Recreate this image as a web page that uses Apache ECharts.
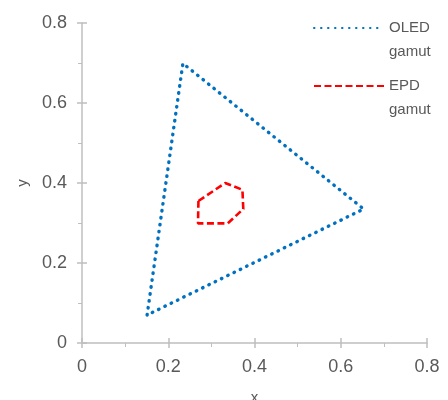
<!DOCTYPE html>
<html>
<head>
<meta charset="utf-8">
<title>Gamut chart</title>
<script src="https://cdn.jsdelivr.net/npm/echarts@6/dist/echarts.min.js"></script>
<style>
  html, body { margin: 0; padding: 0; background: #fff; }
  #chart { width: 448px; height: 400px; }
</style>
</head>
<body>
<div id="chart"></div>
<script>
//--------------------- Data ---------------------------//
// OLED triangle (x, y)
const oledX = [0.151, 0.234, 0.653, 0.151];
const oledY = [0.070, 0.699, 0.335, 0.070];

// EPD polygon (x, y)
const epdX = [0.270, 0.332, 0.372, 0.374, 0.338, 0.269, 0.270];
const epdY = [0.355, 0.400, 0.383, 0.335, 0.299, 0.299, 0.355];

const axisTicks = [0, 0.2, 0.4, 0.6, 0.8];

//--------------------- Helpers ---------------------------//
const grey = '#595959';
const axisGrey = '#bfbfbf';
const font = 'Liberation Sans, Arial, sans-serif';

function toPairs(xs, ys) {
  return xs.map((x, i) => [x, ys[i]]);
}

// main axis: line, labels, outside ticks and minor ticks
function makeAxis(name, extra) {
  return Object.assign({
    type: 'value',
    name: name,
    nameLocation: 'middle',
    nameTextStyle: { color: grey, fontSize: 15, fontFamily: font },
    min: axisTicks[0],
    max: axisTicks[axisTicks.length - 1],
    interval: axisTicks[1] - axisTicks[0],
    axisLine: { show: true, lineStyle: { color: axisGrey, width: 1.5 } },
    axisTick: { show: true, length: 5, lineStyle: { color: axisGrey, width: 1.5 } },
    minorTick: { show: true, splitNumber: 2, length: 4, lineStyle: { color: axisGrey, width: 1 } },
    splitLine: { show: false },
    axisLabel: { color: grey, fontSize: 18, fontFamily: font, margin: 15 }
  }, extra);
}

// twin axis that only draws the inner half of the major ticks
function makeInnerTicks(extra) {
  return Object.assign({
    type: 'value',
    min: axisTicks[0],
    max: axisTicks[axisTicks.length - 1],
    interval: axisTicks[1] - axisTicks[0],
    axisLine: { show: false },
    axisTick: { show: true, inside: true, length: 5, lineStyle: { color: axisGrey, width: 1.5 } },
    axisLabel: { show: false },
    splitLine: { show: false }
  }, extra);
}

//--------------------- Main ---------------------------//
var chartDom = document.getElementById('chart');
var myChart = echarts.init(chartDom);
var option;

option = {
  animation: false,
  grid: { left: 82, right: 21, top: 23, bottom: 57, containLabel: false, outerBoundsMode: 'none' },
  xAxis: [
    makeAxis('x', { nameGap: 47 }),
    makeInnerTicks({ position: 'bottom' })
  ],
  yAxis: [
    makeAxis('y', { nameGap: 52 }),
    makeInnerTicks({ position: 'left' })
  ],
  legend: {
    orient: 'vertical',
    left: 313,
    top: -8,
    padding: 0,
    itemWidth: 70,
    itemHeight: 10,
    itemGap: -14,
    selectedMode: false,
    itemStyle: { opacity: 0 },
    formatter: (name) => '\n' + name,
    textStyle: {
      color: grey,
      fontSize: 15,
      fontFamily: font,
      lineHeight: 24
    },
    data: ['OLED\ngamut', 'EPD\ngamut']
  },
  series: [
    {
      name: 'OLED\ngamut',
      type: 'line',
      symbol: 'none',
      data: toPairs(oledX, oledY),
      lineStyle: { color: '#0070c0', width: 3.4, type: [0.5, 6.5], cap: 'round' },
      itemStyle: { color: '#0070c0' }
    },
    {
      name: 'EPD\ngamut',
      type: 'line',
      symbol: 'none',
      data: toPairs(epdX, epdY),
      lineStyle: { color: '#ff0000', width: 2.6, type: [7, 3.5] },
      itemStyle: { color: '#ff0000' }
    }
  ]
};

option && myChart.setOption(option);
</script>
</body>
</html>
